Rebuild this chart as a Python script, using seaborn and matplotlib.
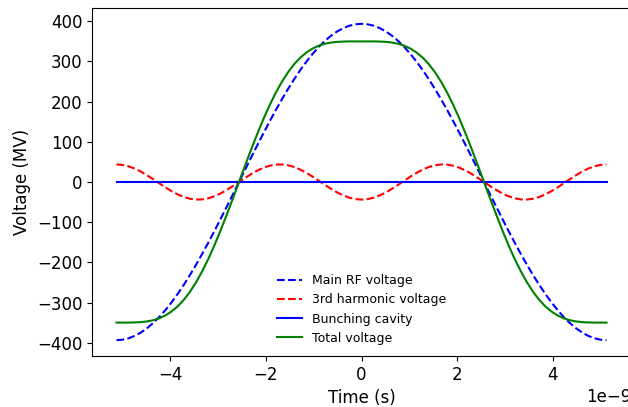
import matplotlib
matplotlib.use("Agg")
import matplotlib.pyplot as plt
import seaborn as sns
import numpy as np

# Time samples (ns)
time_ns = [-5.130, -5.002, -4.874, -4.745, -4.617, -4.489, -4.361, -4.232, -4.104, -3.976,
           -3.848, -3.719, -3.591, -3.463, -3.335, -3.206, -3.078, -2.950, -2.822, -2.693,
           -2.565, -2.437, -2.309, -2.180, -2.052, -1.924, -1.796, -1.667, -1.539, -1.411,
           -1.283, -1.154, -1.026, -0.898, -0.770, -0.641, -0.513, -0.385, -0.257, -0.128,
           0.000,
           0.128, 0.257, 0.385, 0.513, 0.641, 0.770, 0.898, 1.026, 1.154, 1.283,
           1.411, 1.539, 1.667, 1.796, 1.924, 2.052, 2.180, 2.309, 2.437, 2.565,
           2.693, 2.822, 2.950, 3.078, 3.206, 3.335, 3.463, 3.591, 3.719, 3.848,
           3.976, 4.104, 4.232, 4.361, 4.489, 4.617, 4.745, 4.874, 5.002, 5.130]

main_rf = [-393.0, -391.8, -388.2, -382.1, -373.8, -363.1, -350.2, -335.1, -317.9, -298.8,
           -277.9, -255.2, -231.0, -205.3, -178.4, -150.4, -121.4, -91.7, -61.5, -30.8,
           0.0, 30.8, 61.5, 91.7, 121.4, 150.4, 178.4, 205.3, 231.0, 255.2,
           277.9, 298.8, 317.9, 335.1, 350.2, 363.1, 373.8, 382.1, 388.2, 391.8,
           393.0,
           391.8, 388.2, 382.1, 373.8, 363.1, 350.2, 335.1, 317.9, 298.8, 277.9,
           255.2, 231.0, 205.3, 178.4, 150.4, 121.4, 91.7, 61.5, 30.8, 0.0,
           -30.8, -61.5, -91.7, -121.4, -150.4, -178.4, -205.3, -231.0, -255.2, -277.9,
           -298.8, -317.9, -335.1, -350.2, -363.1, -373.8, -382.1, -388.2, -391.8, -393.0]

third_harm = [43.7, 42.5, 38.9, 33.2, 25.7, 16.7, 6.8, -3.4, -13.5, -22.8,
              -30.9, -37.3, -41.6, -43.6, -43.2, -40.4, -35.4, -28.4, -19.8, -10.2,
              0.0, 10.2, 19.8, 28.4, 35.4, 40.4, 43.2, 43.6, 41.6, 37.3,
              30.9, 22.8, 13.5, 3.4, -6.8, -16.7, -25.7, -33.2, -38.9, -42.5,
              -43.7,
              -42.5, -38.9, -33.2, -25.7, -16.7, -6.8, 3.4, 13.5, 22.8, 30.9,
              37.3, 41.6, 43.6, 43.2, 40.4, 35.4, 28.4, 19.8, 10.2, 0.0,
              -10.2, -19.8, -28.4, -35.4, -40.4, -43.2, -43.6, -41.6, -37.3, -30.9,
              -22.8, -13.5, -3.4, 6.8, 16.7, 25.7, 33.2, 38.9, 42.5, 43.7]

bunching = [0.0] * 81

total = [-349.3, -349.3, -349.3, -348.9, -348.1, -346.4, -343.4, -338.5, -331.4, -321.6,
         -308.8, -292.5, -272.6, -248.9, -221.6, -190.8, -156.8, -120.1, -81.3, -41.0,
         0.0, 41.0, 81.3, 120.1, 156.8, 190.8, 221.6, 248.9, 272.6, 292.5,
         308.8, 321.6, 331.4, 338.5, 343.4, 346.4, 348.1, 348.9, 349.3, 349.3,
         349.3,
         349.3, 349.3, 348.9, 348.1, 346.4, 343.4, 338.5, 331.4, 321.6, 308.8,
         292.5, 272.6, 248.9, 221.6, 190.8, 156.8, 120.1, 81.3, 41.0, 0.0,
         -41.0, -81.3, -120.1, -156.8, -190.8, -221.6, -248.9, -272.6, -292.5, -308.8,
         -321.6, -331.4, -338.5, -343.4, -346.4, -348.1, -348.9, -349.3, -349.3, -349.3]

labels = ["Main RF voltage", "3rd harmonic voltage", "Bunching cavity", "Total voltage"]

t = np.array(time_ns) * 1e-9

fig = plt.figure(figsize=(6.28, 4.07), dpi=100)
ax = fig.add_axes([92 / 628, 1 - 356 / 407, (631 - 92) / 628, (356 - 8) / 407])

sns.lineplot(x=t, y=main_rf, ax=ax, color="blue", linestyle="--", label=labels[0], sort=False)
sns.lineplot(x=t, y=third_harm, ax=ax, color="red", linestyle="--", label=labels[1], sort=False)
sns.lineplot(x=t, y=bunching, ax=ax, color="blue", linestyle="-", label=labels[2], sort=False)
sns.lineplot(x=t, y=total, ax=ax, color="green", linestyle="-", label=labels[3], sort=False)

ax.set_xlabel("Time (s)", fontsize=12)
ax.set_ylabel("Voltage (MV)", fontsize=12)
ax.tick_params(labelsize=12)
ax.xaxis.get_offset_text().set_fontsize(12)
ax.legend(loc="lower center", frameon=False, fontsize=9)

fig.savefig("out.png", dpi=100)
